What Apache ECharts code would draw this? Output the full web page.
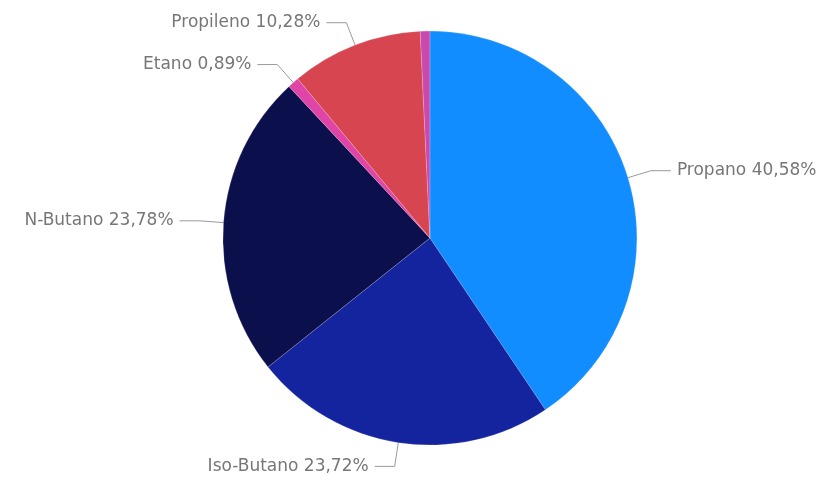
<!DOCTYPE html>
<html>
<head>
<meta charset="utf-8">
<script src="https://cdn.jsdelivr.net/npm/echarts@6/dist/echarts.min.js"></script>
<style>html,body{margin:0;padding:0;background:#fff}#c{width:826px;height:480px}</style>
</head>
<body>
<div id="c"></div>
<script>
const categories = ['Propano', 'Iso-Butano', 'N-Butano', 'Etano', 'Propileno', 'Otros'];
const values = [40.58, 23.72, 23.78, 0.89, 10.28, 0.75];
const colors = ['#118DFF', '#14239E', '#0B0F4C', '#E044A7', '#D64550', '#C94AAE'];
const showLabel = [true, true, true, true, true, false];

const chart = echarts.init(document.getElementById('c'));
chart.setOption({
  animation: false,
  series: [{
    type: 'pie',
    center: ['52.05%', '49.6%'],
    radius: 207,
    startAngle: 90,
    clockwise: true,
    avoidLabelOverlap: true,
    data: categories.map((n, i) => ({
      name: n,
      value: values[i],
      itemStyle: { color: colors[i] },
      label: { show: showLabel[i] },
      labelLine: { show: showLabel[i] }
    })),
    itemStyle: { borderColor: 'rgba(255,255,255,0.35)', borderWidth: 0.5 },
    label: {
      show: true,
      position: 'outside',
      overflow: 'none',
      color: '#777777',
      fontFamily: 'DejaVu Sans',
      fontSize: 17,
      distanceToLabelLine: 6,
      formatter: p => p.name + ' ' + p.value.toFixed(2).replace('.', ',') + '%'
    },
    labelLine: {
      show: true,
      length: 24,
      length2: 20,
      lineStyle: { color: '#9a9a9a', width: 1 }
    }
  }]
});
</script>
</body>
</html>
